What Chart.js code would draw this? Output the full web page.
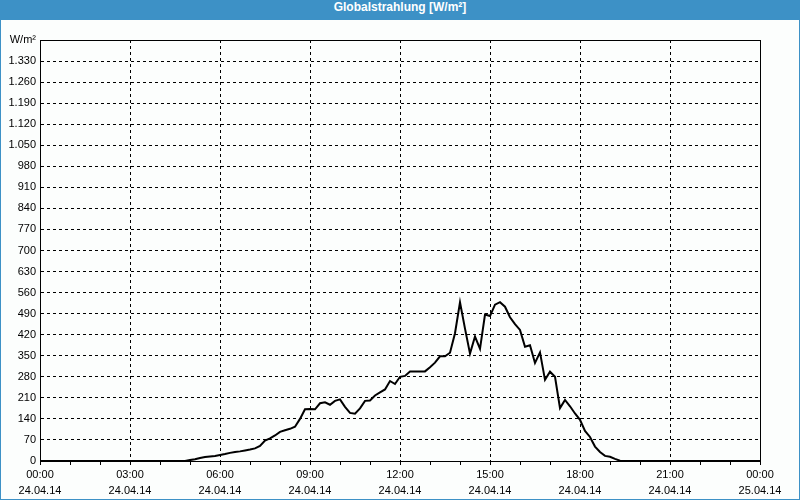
<!DOCTYPE html>
<html>
<head>
<meta charset="utf-8">
<script src="https://cdn.jsdelivr.net/npm/chart.js@4.4.0/dist/chart.umd.min.js"></script>
<style>
html, body { margin: 0; padding: 0; }
body { width: 800px; height: 500px; overflow: hidden; background: #fff; }
#frame { position: absolute; left: 0; top: 0; width: 798px; height: 499px;
  border: 1px solid #3d91c6; border-top: none; background: #fcfefd; }
#title { height: 20px; line-height: 20px; background: #3d91c6; color: #fff;
  font: bold 12px 'Liberation Sans', sans-serif; text-align: center; margin: 0 -1px; }
#wrap { position: relative; width: 798px; height: 479px; }
</style>
</head>
<body>
<div id="frame">
  <div id="title">Globalstrahlung [W/m²]</div>
  <div id="wrap"><canvas id="chart"></canvas></div>
</div>
<script>
'use strict';

// 24.04.14, one value every 10 minutes from 00:00 to 24:00
var dayLabel = '24.04.14';
var nextDayLabel = '25.04.14';
var stepMinutes = 10;
var unitLabel = 'W/m²';

var radiation = [
  0, 0, 0, 0, 0, 0, 0, 0, 0, 0,
  0, 0, 0, 0, 0, 0, 0, 0, 0, 0,
  0, 0, 0, 0, 0, 0, 0, 0, 0, 0,
  3, 6, 10, 13, 15, 17, 20, 23, 27, 30,
  32, 35, 38, 42, 50, 68, 75, 85, 97, 102,
  107, 114, 140, 172, 173, 172, 192, 195, 187, 200,
  205, 180, 160, 157, 175, 200, 201, 218, 228, 238,
  266, 256, 280, 283, 298, 298, 298, 298, 312, 327,
  348, 348, 360, 425, 528, 440, 357, 414, 373, 487,
  482, 520, 528, 513, 478, 455, 436, 380, 385, 326,
  361, 270, 297, 280, 176, 203, 182, 158, 137, 100,
  80, 48, 30, 17, 14, 7, 1, 0, 0, 0,
  0, 0, 0, 0, 0, 0, 0, 0, 0, 0,
  0, 0, 0, 0, 0, 0, 0, 0, 0, 0,
  0, 0, 0, 0, 0
];

var yMax = 1400;
var yStep = 70;

function formatThousands(v) {
  if (v < 1000) return String(v);
  return Math.floor(v / 1000) + '.' + String(v % 1000).padStart(3, '0');
}

function hourLabel(h) {
  var hh = h % 24;
  return String(hh).padStart(2, '0') + ':00';
}

// solid frame round the plot area
var frameBox = {
  id: 'frameBox',
  afterDraw: function(chart) {
    var a = chart.chartArea;
    var ctx = chart.ctx;
    ctx.save();
    ctx.strokeStyle = '#000';
    ctx.lineWidth = 1;
    ctx.setLineDash([]);
    ctx.strokeRect(Math.round(a.left) + 0.5, Math.round(a.top) + 0.5,
      Math.round(a.right - a.left), Math.round(a.bottom - a.top));
    ctx.restore();
  }
};

Chart.defaults.font.family = "'Liberation Sans', sans-serif";
Chart.defaults.font.size = 11;
Chart.defaults.color = '#000';

var points = radiation.map(function(v, i) {
  return { x: i * stepMinutes / 60, y: v };
});

new Chart(document.getElementById('chart').getContext('2d'), {
  type: 'line',
  data: {
    datasets: [{
      data: points,
      borderColor: '#000',
      borderWidth: 2,
      pointRadius: 0,
      tension: 0,
      fill: false
    }]
  },
  options: {
    responsive: true,
    maintainAspectRatio: false,
    animation: false,
    layout: { padding: { top: 20, right: 39, left: 0, bottom: 0 } },
    plugins: { legend: { display: false }, tooltip: { enabled: false } },
    scales: {
      x: {
        type: 'linear',
        min: 0,
        max: 24,
        afterFit: function(scale) { scale.height = 38; },
        ticks: {
          stepSize: 1,
          autoSkip: false,
          maxRotation: 0,
          padding: 2,
          font: { lineHeight: 1.45 },
          callback: function(v) {
            if (v % 3 !== 0) return '';
            return [hourLabel(v), v === 24 ? nextDayLabel : dayLabel];
          }
        },
        grid: {
          color: function(ctx) {
            return ctx.tick && ctx.tick.value % 3 === 0 ? '#000' : 'rgba(0,0,0,0)';
          },
          tickBorderDash: [],
          tickColor: '#000',
          tickLength: 4,
          lineWidth: 1
        },
        border: { display: true, color: '#000', width: 1, dash: [3, 3] }
      },
      y: {
        min: 0,
        max: yMax,
        afterFit: function(scale) { scale.width = 39; },
        ticks: {
          stepSize: yStep,
          autoSkip: false,
          padding: 4,
          callback: function(v) {
            return v === yMax ? unitLabel : formatThousands(v);
          }
        },
        grid: {
          color: '#000',
          drawTicks: false,
          lineWidth: 1
        },
        border: { display: true, color: '#000', width: 1, dash: [3, 3] }
      }
    }
  },
  plugins: [frameBox]
});
</script>
</body>
</html>
